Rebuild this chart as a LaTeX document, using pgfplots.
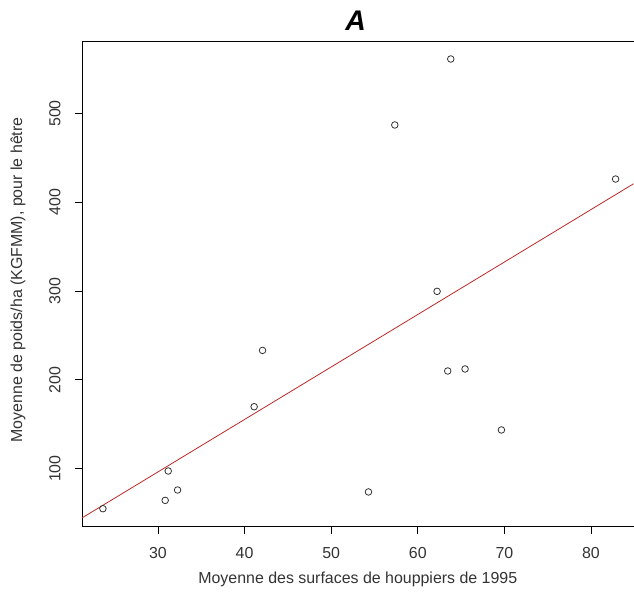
\documentclass[border=0pt]{standalone}
\usepackage{pgfplots}
\pgfplotsset{compat=1.18}
\usepackage{fontspec}
\setmainfont{Liberation Sans}
\definecolor{fitred}{RGB}{190,40,40}
\definecolor{ptgray}{RGB}{50,50,50}
\begin{document}
\begin{tikzpicture}
\begin{axis}[
  at={(0,0)}, anchor=south west,
  scale only axis,
  width=552bp, height=486bp,
  xmin=21.23, xmax=84.92,
  ymin=34.7, ymax=581.7,
  axis x line=box, axis y line=left,
  axis line style={-, black, line width=0.8bp},
  xtick={30,40,50,60,70,80},
  ytick={100,200,300,400,500},
  xtick pos=lower, ytick pos=left,
  tick align=outside,
  major tick length=7bp,
  tick style={black, line width=0.8bp},
  /pgf/number format/assume math mode=true,
  ticklabel style={font=\fontsize{16}{18}\selectfont, text=black!80},
  xticklabel style={yshift=-10bp},
  yticklabel style={rotate=90, anchor=south, yshift=11bp},
  xlabel={Moyenne des surfaces de houppiers de 1995},
  ylabel={Moyenne de poids/ha (KGFMM), pour le hêtre},
  label style={font=\fontsize{16}{18}\selectfont, text=black!80},
  xlabel style={at={(axis description cs:0.5,-0.108)}, anchor=center},
  ylabel style={at={(axis description cs:-0.116,0.508)}, anchor=center},
  title={A},
  title style={at={(axis description cs:0.496,1.030)}, anchor=center, font=\fontsize{28.5}{30}\selectfont\bfseries\itshape},
  clip=true,
]
\addplot[only marks, mark=o, mark size=3.3bp, mark options={ptgray, line width=0.8bp}] coordinates {
(23.65,54.95) (30.84,64.3) (31.19,97.4) (32.27,76.0) (41.11,169.8)
(42.08,233.2) (54.31,73.8) (57.35,487.1) (62.23,299.7) (63.46,210.0)
(63.81,561.4) (65.46,212.3) (69.66,143.6) (82.84,426.2)
};
\addplot[fitred, line width=0.8bp] coordinates {(21.23,44.5) (84.92,420.9)};
\end{axis}
\path[use as bounding box] (-82bp,-80bp) rectangle (552bp,527bp);
\end{tikzpicture}
\end{document}
